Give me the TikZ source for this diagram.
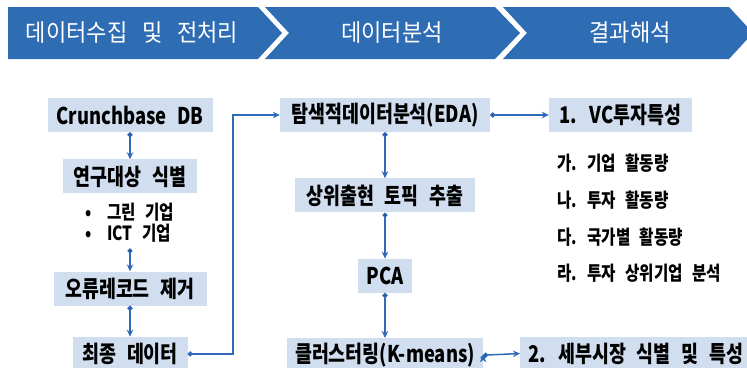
\documentclass[tikz,border=0pt]{standalone}
\usepackage{fontspec}
\setmainfont{Noto Sans CJK KR}[FakeStretch=0.8,WordSpace=2.6]
\newfontfamily\bannerfont{Noto Sans CJK KR}[FakeStretch=0.92,WordSpace=3]
\usepackage{tikz}
\definecolor{bannercolor}{RGB}{46,109,180}
\definecolor{boxcolor}{RGB}{209,222,239}
\definecolor{linkcolor}{RGB}{47,105,185}
\usetikzlibrary{arrows.meta,positioning}
\tikzset{
	block/.style={
		rectangle,
		fill=boxcolor,
		minimum height=34pt,
		inner xsep=8pt,
		font=\fontsize{23}{26}\selectfont\bfseries,
		text centered
	},
	phase/.style={
		text=white,
		font=\bannerfont\fontsize{24}{27}\selectfont
	},
	item/.style={
		anchor=west,
		inner sep=0pt,
		font=\fontsize{19.5}{21}\selectfont\bfseries
	},
	link/.style={
		draw=linkcolor,
		line width=1.5pt,
		{Circle[length=5pt]}-{Stealth[length=7pt,width=6.5pt]}
	},
}

\begin{document}
\begin{tikzpicture}[x=1pt,y=-1pt,node distance=46pt]
				\useasboundingbox (0,0) rectangle (747,367);
				% banner
				\fill[bannercolor] (8,7) -- (258,7) -- (282,33) -- (258,59) -- (8,59) -- cycle;
				\fill[bannercolor] (265,7) -- (495,7) -- (520,33) -- (495,59) -- (265,59) -- (289,33) -- cycle;
				\fill[bannercolor] (503,7) -- (729,7) -- (753,33) -- (729,59) -- (503,59) -- (527,33) -- cycle;
				\node [phase] (collect) at (132,33) {데이터수집 및 전처리};
				\node [phase] (analyse) at (392,33) {데이터분석};
				\node [phase] (interpret) at (630,33) {결과해석};
				
				% left column
				\node [block,minimum width=165pt] (crunch) at (130,115) {Crunchbase DB};
				\node [block,minimum width=134pt] (target) [below=27pt of crunch] {연구대상 식별};
				\node [item,align=left,inner ysep=6pt] (sectors) at (85,222.5) {\makebox[22pt][l]{•}그린 기업\\\makebox[22pt][l]{•}ICT 기업};
				\node [block,minimum width=153pt] (clean) at (130,288.5) {오류레코드 제거};
				\node [block,minimum width=115pt] (final) [below=31pt of clean] {최종 데이터};
				
				% middle column
				\node [block,minimum width=210pt] (eda) at (385,115) {탐색적데이터분석(EDA)};
				\node [block,minimum width=180pt] (topic) [below=46pt of eda] {상위출현 토픽 추출};
				\node [block,minimum width=54pt] (pca) [below=46pt of topic] {PCA};
				\node [block,minimum width=193pt] (cluster) [below=45pt of pca] {클러스터링(K-means)};
				
				% right column
				\node [block,minimum width=143pt] (vc) at (620.5,115) {1. VC투자특성};
				\node [item] (firms) at (557,163) {가. 기업 활동량};
				\node [item] (deals) at (557,200) {나. 투자 활동량};
				\node [item] (countries) at (557,237) {다. 국가별 활동량};
				\node [item] (leaders) at (557,273) {라. 투자 상위기업 분석};
				\node [block,anchor=west] (market) at (520,353.5) {2. 세부시장 식별 및 특성};
				
				\coordinate (bend) at (233,0);
				\path[link]
				(crunch.south) edge (target.north)
				(sectors.south -| clean.north) edge (clean.north)
				(clean.south) edge (final.north)
				(eda.south) edge (topic.north)
				(topic.south) edge (pca.north)
				(pca.south) edge (pca.south |- cluster.north)
				(eda.east) edge (vc.west)
				(cluster.east) edge (market.west)
				;
				\draw[link] (final.east) -- (final.east -| bend) |- (eda.west);
				\end{tikzpicture}
\end{document}
